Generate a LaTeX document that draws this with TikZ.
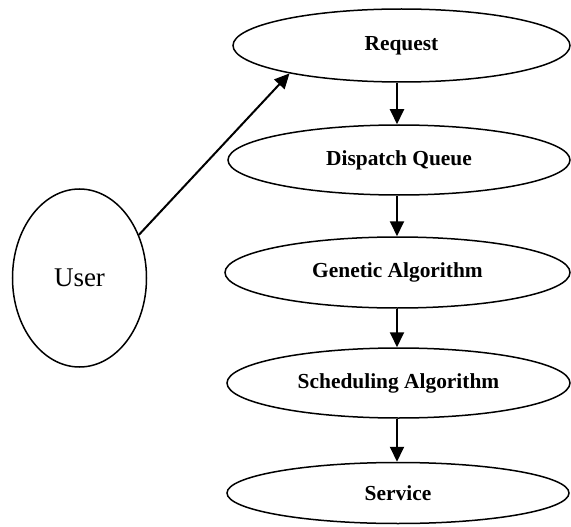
\documentclass[tikz,border=0pt]{standalone}
\usepackage{fontspec}
\setmainfont{Liberation Serif}
\usetikzlibrary{shapes.geometric,arrows.meta}
\tikzset{
  stage/.style={draw, ellipse, line width=1.5pt, inner sep=0pt,
    minimum width=343pt, minimum height=70pt,
    font=\fontsize{21.4}{25}\selectfont\bfseries},
  actor/.style={draw, ellipse, line width=1.5pt, inner sep=0pt,
    minimum width=134pt, minimum height=178pt,
    font=\fontsize{27}{32}\selectfont},
  flow/.style={line width=2pt, -{Triangle[length=15pt,width=14pt]}}
}
\begin{document}
\begin{tikzpicture}[x=1pt,y=-1pt]
  \useasboundingbox (0,0) rectangle (571,527);
  \node[stage, minimum width=337pt, minimum height=73pt] (req) at (401.5,45.5) {Request};
  \node[stage, minimum width=342pt] (dq) at (399,160) {Dispatch Queue};
  \node[stage, minimum width=345pt, minimum height=71pt] (ga) at (397.5,272.5) {Genetic Algorithm};
  \node[stage] (sa) at (398.5,383) {Scheduling Algorithm};
  \node[stage, minimum width=342pt, minimum height=61pt] (sv) at (398,493) {Service};
  \node[actor] (user) at (79.5,278) {User};

  \draw[flow] (user.36) -- (req.194);
  \draw[flow] (req.south -| 397,0) -- (397,0 |- dq.north);
  \draw[flow] (dq.south -| 397,0) -- (397,0 |- ga.north);
  \draw[flow] (ga.south -| 397,0) -- (397,0 |- sa.north);
  \draw[flow] (sa.south -| 397,0) -- (397,0 |- sv.north);
\end{tikzpicture}
\end{document}
